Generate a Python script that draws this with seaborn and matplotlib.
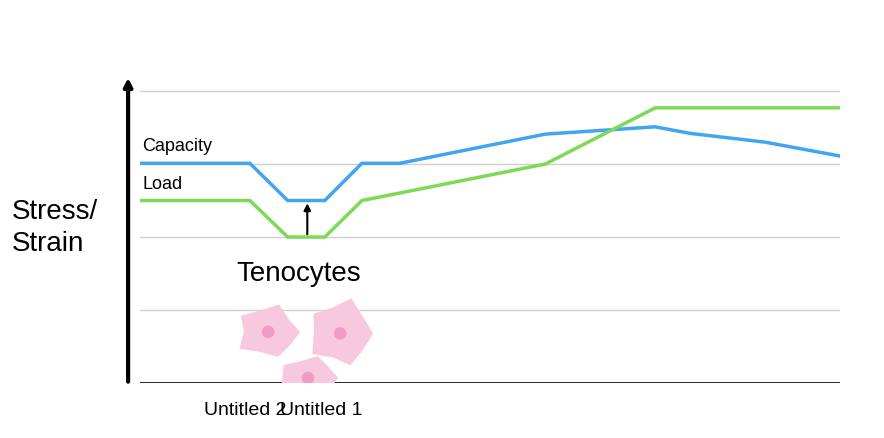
import numpy as np
import pandas as pd
import matplotlib.pyplot as plt
import seaborn as sns
from matplotlib.patches import Polygon, Ellipse

cap_x = [0, 15.7, 21.1, 26.4, 31.7, 37.1, 57.9, 73.6, 78.6, 89.3, 100]
cap_y = [3.01, 3.01, 2.5, 2.5, 3.01, 3.01, 3.41, 3.51, 3.42, 3.30, 3.11]
load_x = [0, 15.7, 21.1, 26.4, 31.7, 57.9, 73.6, 100]
load_y = [2.5, 2.5, 2.0, 2.0, 2.5, 3.0, 3.77, 3.77]
tick_pos = [15.0, 25.9]
tick_labels = ["Untitled 2", "Untitled 1"]

df = pd.concat([
    pd.DataFrame({"x": cap_x, "y": cap_y, "series": "Capacity"}),
    pd.DataFrame({"x": load_x, "y": load_y, "series": "Load"}),
])

sns.set_style("white")
plt.rcParams['font.family'] = 'sans-serif'
plt.rcParams['font.sans-serif'] = ['Liberation Sans', 'DejaVu Sans']
plt.rcParams['text.color'] = 'black'

fig = plt.figure(figsize=(8.84, 4.38), dpi=100)
ax = fig.add_axes([140/884, 55/438, 700/884, 308/438])
sns.lineplot(data=df, x="x", y="y", hue="series", sort=False, estimator=None,
             palette={"Capacity": "#42a5f0", "Load": "#7ed957"}, linewidth=2.5,
             legend=False, ax=ax)
ax.set_xlim(0, 100)
ax.set_ylim(0, 4.22)
for g in [1, 2, 3, 4]:
    ax.axhline(g, color="#d0d0d0", linewidth=1, zorder=0)
ax.axhline(0, color="black", linewidth=1.2, zorder=0)
for s in ax.spines.values():
    s.set_visible(False)
ax.set_yticks([])
ax.set_xticks(tick_pos)
ax.set_xticklabels(tick_labels, fontsize=14, color="black")
ax.tick_params(axis="x", length=0, pad=14)
ax.set_xlabel("")
ax.set_ylabel("")

# y axis arrow
ax.annotate("", xy=(-1.7, 4.22), xytext=(-1.7, -0.02), xycoords="data",
            arrowprops=dict(arrowstyle="-|>", color="black", lw=3, mutation_scale=12),
            annotation_clip=False)
fig.text(12/884, 1 - 228/438, "Stress/\nStrain", fontsize=20, ha="left", va="center",
         linespacing=1.3)
ax.text(0.3, 3.12, "Capacity", fontsize=13, va="bottom")
ax.text(0.3, 2.6, "Load", fontsize=13, va="bottom")
ax.annotate("", xy=(23.9, 2.5), xytext=(23.9, 2.0),
            arrowprops=dict(arrowstyle="-|>", color="black", lw=1.5, mutation_scale=10))
ax.text(13.8, 1.5, "Tenocytes", fontsize=20, va="center")

# decorative cells
def cell(cx, cy, rx, ry, pts):
    ang = np.linspace(0, 2*np.pi, len(pts), endpoint=False)
    verts = [(cx + rx*r*np.cos(a), cy + ry*r*np.sin(a)) for a, r in zip(ang, pts)]
    ax.add_patch(Polygon(verts, closed=True, facecolor="#f7c8de", edgecolor="none",
                         joinstyle="round", zorder=1))
    ax.add_patch(Ellipse((cx, cy), 1.8, 0.17, facecolor="#ef9cc4", edgecolor="none", zorder=2))

cell(18.3, 0.70, 4.6, 0.36, [1.0, 0.8, 1.1, 0.85, 1.05, 0.75, 1.1, 0.8, 1.0, 0.85])
cell(28.6, 0.68, 4.7, 0.46, [1.0, 0.85, 1.1, 0.8, 1.0, 0.8, 1.05, 0.75, 1.0, 0.85])
cell(24.0, 0.07, 4.3, 0.30, [1.0, 0.85, 1.05, 0.8, 1.0, 0.85, 1.1, 0.8, 1.0, 0.9])

plt.savefig("out.png", dpi=100)
